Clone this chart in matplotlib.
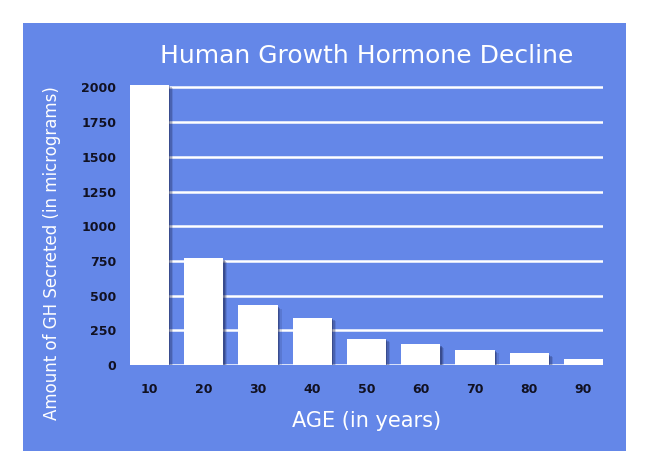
import matplotlib
matplotlib.use('Agg')
import matplotlib.pyplot as plt
import matplotlib.patheffects as pe
from matplotlib.patches import Rectangle

# data
ages = [10, 20, 30, 40, 50, 60, 70, 80, 90]
gh_micrograms = [2020, 770, 430, 340, 190, 150, 110, 85, 45]
y_ticks = [0, 250, 500, 750, 1000, 1250, 1500, 1750, 2000]

BLUE = '#6487e8'
INK = '#111122'
SHADOW = '#1c2450'

plt.rcParams['font.family'] = ['DejaVu Sans']

fig = plt.figure(figsize=(6.5, 4.75), dpi=100)
fig.patch.set_facecolor('white')

# blue panel behind everything
panel = Rectangle((23 / 650, 24 / 475), 603 / 650, 428 / 475,
                  transform=fig.transFigure, facecolor=BLUE,
                  edgecolor='none', zorder=-5)
fig.patches.append(panel)

ax = fig.add_axes([130 / 650, 110 / 475, 473 / 650, 284.5 / 475])
ax.set_facecolor('none')

ax.set_xlim(ages[0] - 3.6, ages[-1] + 3.6)
ax.set_ylim(0, 2050)

# white gridlines
for v in y_ticks:
    ax.axhline(v, color='white', lw=1.8, zorder=1)

# soft drop shadow: a few stacked offsets
bars = ax.bar(ages, gh_micrograms, width=7.2, color='white', zorder=3)
for b in bars:
    b.set_path_effects([
        pe.SimplePatchShadow(offset=(3, -2.5), shadow_rgbFace=SHADOW, alpha=0.15),
        pe.SimplePatchShadow(offset=(2, -1.8), shadow_rgbFace=SHADOW, alpha=0.25),
        pe.SimplePatchShadow(offset=(1, -1), shadow_rgbFace=SHADOW, alpha=0.35),
        pe.Normal(),
    ])

for s in ax.spines.values():
    s.set_visible(False)

ax.set_xticks(ages)
ax.set_xticklabels([str(a) for a in ages])
ax.set_yticks(y_ticks)
ax.set_yticklabels([str(v) for v in y_ticks])
ax.tick_params(length=0, labelcolor=INK, labelsize=9)
ax.tick_params(axis='y', pad=10)
ax.tick_params(axis='x', pad=13)
for lab in ax.get_xticklabels() + ax.get_yticklabels():
    lab.set_fontweight('bold')

fig.text(367 / 650, 1 - 56 / 475, 'Human Growth Hormone Decline',
         color='white', fontsize=18, ha='center', va='center')
fig.text(367 / 650, 1 - 421 / 475, 'AGE (in years)',
         color='white', fontsize=15, ha='center', va='center')
fig.text(52 / 650, 1 - 253 / 475, 'Amount of GH Secreted (in micrograms)',
         color='white', fontsize=12, rotation=90, ha='center', va='center')

fig.savefig('out.png', dpi=100, facecolor='white')
